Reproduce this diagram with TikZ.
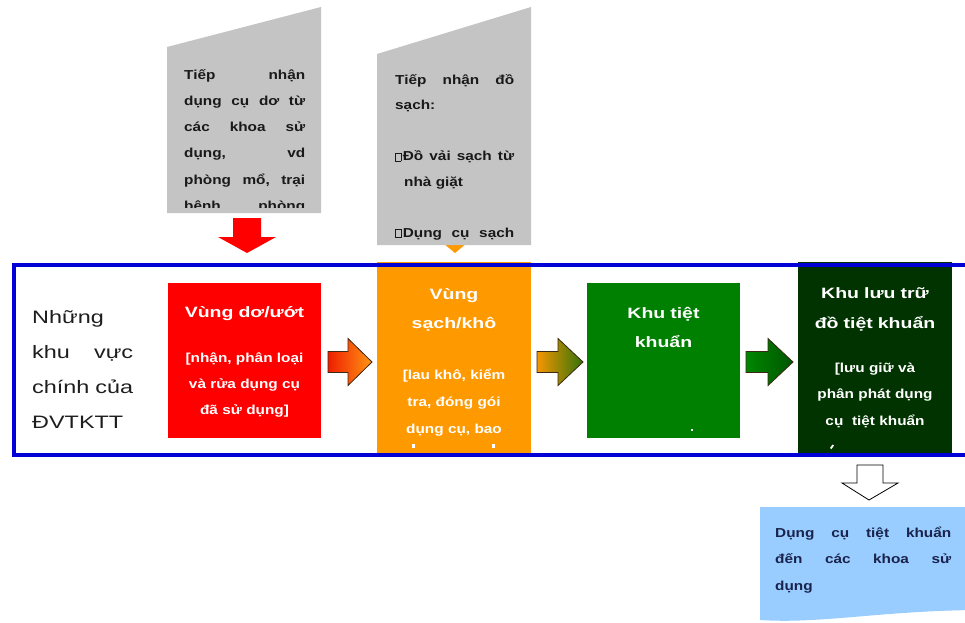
\documentclass[tikz,border=0pt]{standalone}
\usepackage{fontspec}
\setmainfont{Liberation Sans}[FakeStretch=1.3]
\newfontfamily\bodyfont{Liberation Sans}[FakeStretch=1.18]
\usetikzlibrary{calc}
\setlength\parindent{0pt}
\definecolor{gbox}{RGB}{196,196,196}
\definecolor{frameblue}{RGB}{0,0,215}
\definecolor{redbox}{RGB}{255,0,0}
\definecolor{orangebox}{RGB}{255,153,0}
\definecolor{greenbox}{RGB}{0,128,0}
\definecolor{dkgreen}{RGB}{0,51,0}
\definecolor{docblue}{RGB}{153,204,255}
\definecolor{doctext}{RGB}{25,35,75}
\definecolor{graytext}{RGB}{25,25,25}
\definecolor{labeltext}{RGB}{30,30,30}
\definecolor{arrline}{RGB}{60,40,20}
\newcommand\qbox{{\setlength\fboxsep{0pt}\setlength\fboxrule{0.6pt}\fbox{\rule{0pt}{7.5pt}\hspace{5pt}}}\hspace{1.5pt}}
\newcommand\jl[2]{\leavevmode\hbox to #1{#2}}
\begin{document}
\begin{tikzpicture}[x=1pt,y=-1pt,
  boxnode/.style={inner sep=0pt, outer sep=0pt, anchor=north west, draw=none},
  ttl/.style={anchor=north, inner sep=0pt, align=center, text width=150pt, text=white, font=\bfseries\fontsize{15}{29}\selectfont},
  bdy/.style={anchor=north, inner sep=0pt, align=center, text width=150pt, text=white, font=\bodyfont\bfseries\fontsize{13}{26}\selectfont},
  gtext/.style={anchor=north west, inner sep=0pt, align=left, text=graytext, font=\bodyfont\bfseries\fontsize{13}{26.2}\selectfont},
  callout/.style={fill=gbox, draw=none},
  blockarr/.style={draw=arrline, line width=0.8pt, line join=miter},
  speck/.style={fill=white, draw=none}]
\useasboundingbox (0,0) rectangle (965,622);
\fill[white] (0,0) rectangle (965,622);
\clip (0,0) rectangle (965,622);

% callout 1
\fill[callout] (167,47) -- (321,7) -- (321,213) -- (167,213) -- cycle;
\coordinate (g1foot) at (247,213);
\begin{scope}
\clip (167,0) rectangle (321,207);
\node[gtext, text width=121pt] (g1txt) at (184,64) {\rule{0pt}{15pt}\jl{121pt}{Tiếp\hfill nhận}\\
\jl{121pt}{dụng\hfill cụ\hfill dơ\hfill từ}\\
\jl{121pt}{các\hfill khoa\hfill sử}\\
\jl{121pt}{dụng,\hfill vd}\\
\jl{121pt}{phòng\hfill mổ,\hfill trại}\\
\jl{121pt}{bệnh\hfill phòng}};
\end{scope}
\fill[redbox] ($(g1foot)+(-14,5)$) -- ++(28,0) -- ++(0,19) -- ++(15,0) -- ++(-29,16) -- ++(-29,-16) -- ++(15,0) -- cycle;

% callout 2
\coordinate (g2foot) at (455,245);
\fill[orangebox] ($(g2foot)+(-12,-2)$) -- ++(24,0) -- ++(-12,10) -- cycle;
\fill[callout] (377,54) -- (531,7) -- (531,245) -- (377,245) -- cycle;
\node[gtext, text width=119pt, font=\bodyfont\bfseries\fontsize{13}{25.5}\selectfont] (g2txt) at (395,69) {\rule{0pt}{15pt}\jl{119pt}{Tiếp\hfill nhận\hfill đồ}\\
sạch:\\[25.5pt]
\jl{119pt}{\qbox Đồ\hfill vải\hfill sạch\hfill từ}\\
\hspace*{9pt}nhà giặt\\[25.5pt]
\jl{119pt}{\qbox Dụng\hfill cụ\hfill sạch}};

% main boxes
\node[boxnode, fill=redbox, minimum width=153pt, minimum height=155pt] (red) at (168,283) {};
\node[boxnode, fill=orangebox, minimum width=154pt, minimum height=194pt] (orange) at (377,262) {};
\node[boxnode, fill=greenbox, minimum width=153pt, minimum height=155pt] (green) at (587,283) {};
\node[boxnode, fill=dkgreen, minimum width=154pt, minimum height=194pt] (dkgreen) at (798,262) {};

\node[ttl] (redttl) at ($(red.north)+(0,17)$) {\rule{0pt}{17pt}Vùng dơ/ướt};
\node[bdy] (redbdy) at ($(red.north)+(0,64)$) {\rule{0pt}{15pt}[nhận, phân loại\\và rửa dụng cụ\\đã sử dụng]};

\node[ttl] (orttl) at ($(orange.north)+(0,20)$) {\rule{0pt}{17pt}Vùng\\sạch/khô};
\node[bdy, font=\bodyfont\bfseries\fontsize{13}{27}\selectfont] (orbdy) at ($(orange.north)+(0,102)$) {\rule{0pt}{15pt}[lau khô, kiểm\\tra, đóng gói\\dụng cụ, bao};
\fill[speck] (412,444) rectangle (414.5,447.5);
\fill[speck] (492,444) rectangle (494.5,447.5);

\node[ttl] (grttl) at ($(green.north)+(0,18)$) {\rule{0pt}{17pt}Khu tiệt\\khuẩn};
\fill[speck] (690.5,428.5) rectangle (693,431);

\node[ttl, font=\bfseries\fontsize{15}{30}\selectfont] (dgttl) at ($(dkgreen.north)+(0,19)$) {\rule{0pt}{17pt}Khu lưu trữ\\đồ tiệt khuẩn};
\node[bdy, font=\bodyfont\bfseries\fontsize{13}{26.5}\selectfont] (dgbdy) at ($(dkgreen.north)+(0,95)$) {\rule{0pt}{15pt}[lưu giữ và\\phân phát dụng\\cụ\ \ tiệt khuẩn};
\fill[speck] (830,448) -- (832.5,444.5) -- (834,445.5) -- (831.5,449) -- cycle;

% left label
\node[anchor=north west, inner sep=0pt, text width=101pt, align=left, text=labeltext, font=\fontsize{18}{35}\selectfont] (lbl) at (32,304) {\rule{0pt}{19pt}Những\\\jl{101pt}{khu\hfill vực}\\chính của\\ĐVTKTT};

% block arrows
\draw[blockarr, left color={rgb,255:red,240;green,30;blue,0}, right color={rgb,255:red,255;green,150;blue,20}]
  ($(red.east)+(7,-9)$) -- ++(20,0) -- ++(0,-13) -- ++(24,23.5) -- ++(-24,23.5) -- ++(0,-13) -- ++(-20,0) -- cycle;
\draw[blockarr, left color={rgb,255:red,245;green,150;blue,0}, right color={rgb,255:red,50;green,115;blue,10}]
  ($(orange.east)+(6,-7.5)$) -- ++(21,0) -- ++(0,-13) -- ++(25,23.5) -- ++(-25,23.5) -- ++(0,-13) -- ++(-21,0) -- cycle;
\draw[blockarr, left color={rgb,255:red,0;green,135;blue,0}, right color={rgb,255:red,0;green,85;blue,0}]
  ($(green.east)+(6,-9)$) -- ++(22,0) -- ++(0,-13) -- ++(25,23.5) -- ++(-25,23.5) -- ++(0,-13) -- ++(-22,0) -- cycle;

% frame
\draw[frameblue, line width=4pt] (13.5,265) rectangle (1000,455);

% output arrow and document
\coordinate (dgfoot) at (870,462);
\draw[fill=white, draw=black, line width=0.8pt] ($(dgfoot)+(-13,3)$) -- ++(26,0) -- ++(0,18) -- ++(15,0) -- ++(-29,17) -- ++(-27,-17) -- ++(15,0) -- cycle;
\fill[docblue] (760,507) -- (975,507) -- (975,610) .. controls (880,611) and (820,624) .. (760,620) -- cycle;
\node[gtext, text=doctext, text width=176pt, font=\bodyfont\bfseries\fontsize{13}{26.5}\selectfont] (doctxt) at (775,522) {\rule{0pt}{15pt}\jl{176pt}{Dụng\hfill cụ\hfill tiệt\hfill khuẩn}\\
\jl{176pt}{đến\hfill các\hfill khoa\hfill sử}\\
dụng};
\end{tikzpicture}
\end{document}
